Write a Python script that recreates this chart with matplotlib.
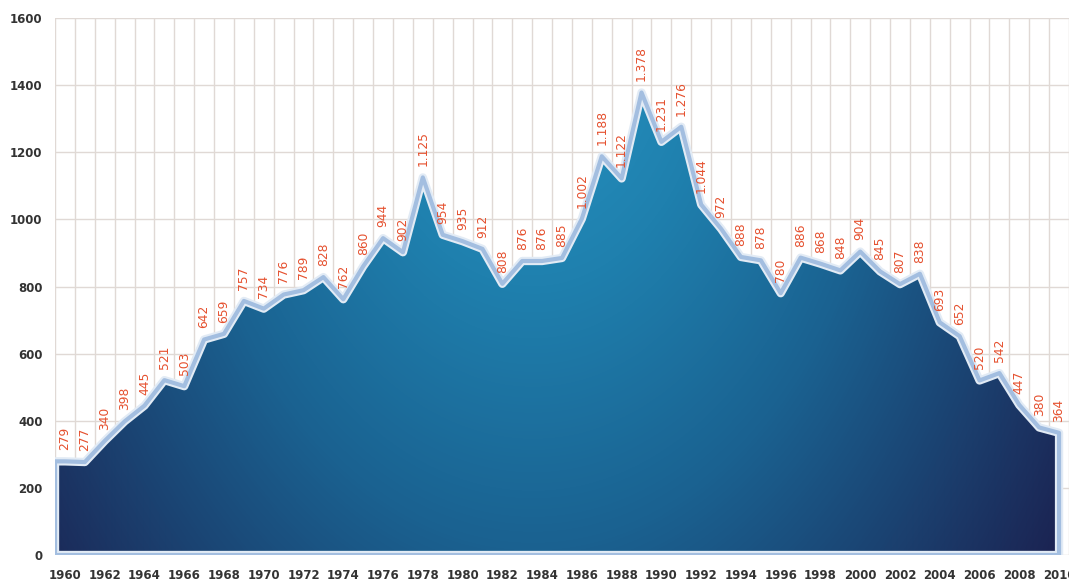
import matplotlib
matplotlib.use("Agg")
import matplotlib.pyplot as plt
import numpy as np
from matplotlib.colors import LinearSegmentedColormap

years = np.arange(1960, 2011)
values = [279, 277, 340, 398, 445, 521, 503, 642, 659, 757,
          734, 776, 789, 828, 762, 860, 944, 902, 1125, 954,
          935, 912, 808, 876, 876, 885, 1002, 1188, 1122, 1378,
          1231, 1276, 1044, 972, 888, 878, 780, 886, 868, 848,
          904, 845, 807, 838, 693, 652, 520, 542, 447, 380,
          364]
xtick_years = np.arange(1960, 2011, 2)
yticks = np.arange(0, 1601, 200)

fig = plt.figure(figsize=(10.69, 5.85), dpi=100)
ax = fig.add_axes([55 / 1069, 30 / 585, 1 - 55 / 1069, 537 / 585])

x0, x1 = 1959.5, 1959.5 + (1069 - 55) / 20
ax.set_xlim(x0, x1)
ax.set_ylim(0, 1600)

# area runs out to the left edge of the plot
xs = np.concatenate([[x0], years])
ys = np.concatenate([[values[0]], values])

# elliptical gradient fill, clipped to the area
cmap = LinearSegmentedColormap.from_list("blues", [
    (0.0, "#2897c5"), (0.28, "#1f80ae"), (0.55, "#1a6291"),
    (0.78, "#1b4170"), (1.0, "#1b2150")])
W, H = 1014, 537
gx, gy = np.meshgrid(np.arange(W), np.arange(H))
d = np.hypot((gx - 480) / 580.0, gy / 850.0) / 1.12
im = ax.imshow(np.clip(d, 0, 1), cmap=cmap, vmin=0, vmax=1, aspect="auto",
               extent=(x0, x1, 0, 1600), origin="upper", zorder=2,
               interpolation="bilinear")

glow = ax.fill_between(xs, 0, ys, facecolor="none", edgecolor="#e2ebf5",
                       linewidth=6, zorder=2.5)
poly = ax.fill_between(xs, 0, ys, facecolor="none", edgecolor="#a3bee0",
                       linewidth=3, zorder=3)
im.set_clip_path(poly.get_paths()[0], transform=ax.transData)

for yr, v in zip(years, values):
    ax.annotate(f"{v:,}".replace(",", "."), (yr, v), xytext=(0, 8),
                textcoords="offset points", rotation=90, ha="center",
                va="bottom", color="#e5502e", fontsize=8.8,
                annotation_clip=False, zorder=5)

ax.set_xticks(xtick_years)
ax.set_xticklabels([str(y) for y in xtick_years])
ax.set_xticks(np.arange(1959.5, 2011, 1), minor=True)
ax.set_yticks(yticks)
ax.grid(which="minor", axis="x", color="#e0d9d5", linewidth=1, zorder=0)
ax.grid(which="major", axis="y", color="#e0d9d5", linewidth=1, zorder=0)
ax.set_axisbelow(True)
ax.tick_params(which="both", length=0)
ax.tick_params(axis="x", pad=10, labelsize=8.5, labelcolor="#333333")
ax.tick_params(axis="y", pad=9, labelsize=8.5, labelcolor="#333333")
for lab in ax.get_xticklabels() + ax.get_yticklabels():
    lab.set_fontweight("bold")
for s in ax.spines.values():
    s.set_visible(False)

plt.savefig("out.png", dpi=100)
